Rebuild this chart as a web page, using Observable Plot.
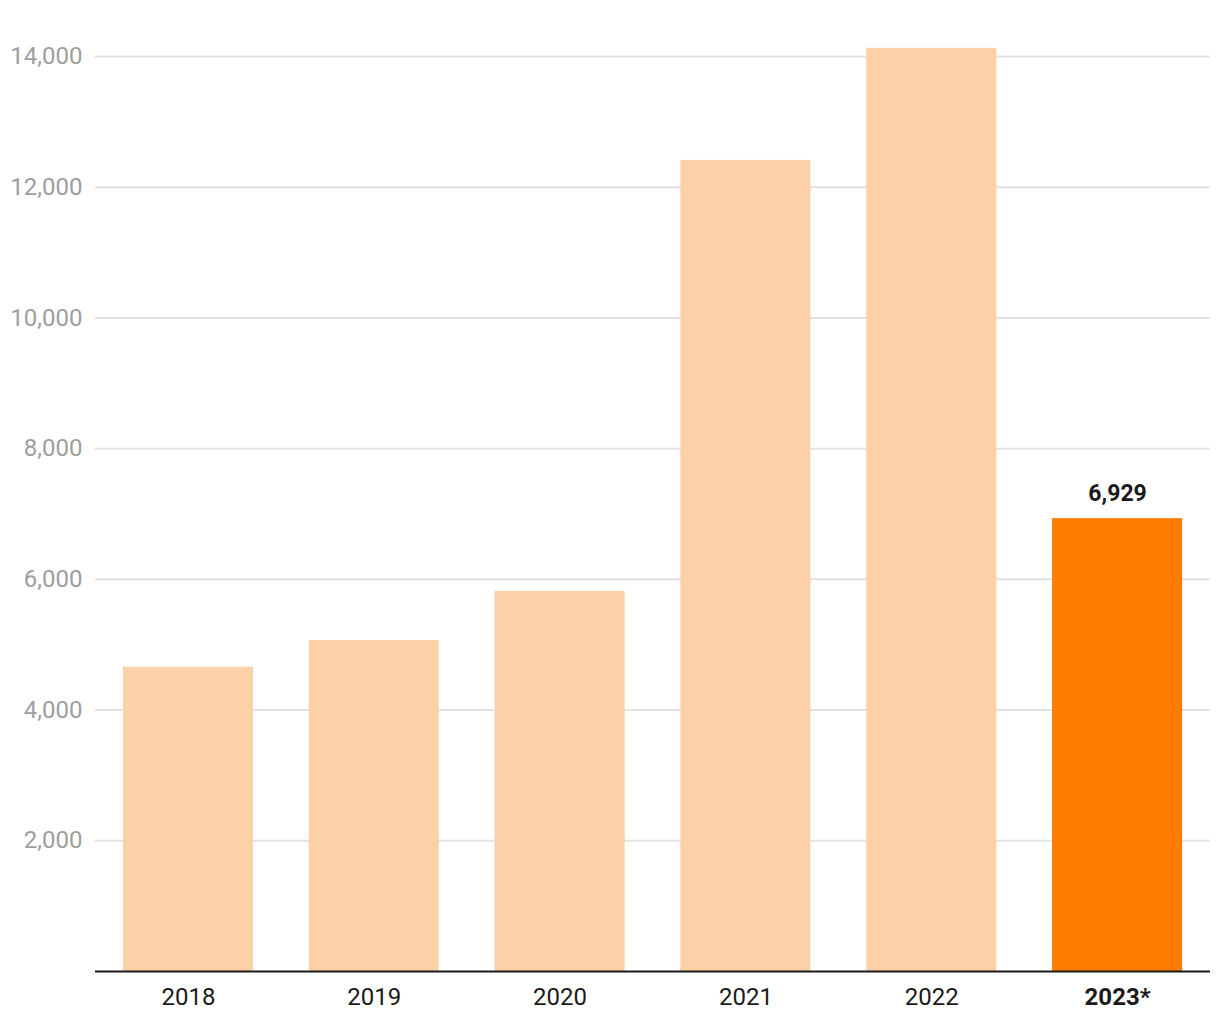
<!DOCTYPE html>
<html>
<head>
<meta charset="utf-8">
<script src="https://cdn.jsdelivr.net/npm/d3@7"></script>
<script src="https://cdn.jsdelivr.net/npm/@observablehq/plot@0.6"></script>
<style>
  html, body { margin: 0; padding: 0; background: #fff; }
  #chart { width: 1220px; height: 1020px; }
  svg { font-family: Roboto, "Noto Sans", sans-serif; }
</style>
</head>
<body>
<div id="chart"></div>
<script>
const years = ["2018", "2019", "2020", "2021", "2022", "2023*"];
const values = [4655, 5065, 5815, 12410, 14125, 6929];
const highlight = [false, false, false, false, false, true];
const yTicks = [2000, 4000, 6000, 8000, 10000, 12000, 14000];

const data = years.map((y, i) => ({year: y, value: values[i], hl: highlight[i]}));
const fmt = d3.format(",");

const chart = Plot.plot({
  width: 1220,
  height: 1020,
  marginLeft: 95,
  marginRight: 10,
  marginTop: 56,
  marginBottom: 49,
  style: {fontFamily: "Roboto, 'Noto Sans', sans-serif", background: "#fff"},
  x: {domain: years, paddingInner: 0.3, paddingOuter: 0.15, align: 0.5, round: false, label: null},
  y: {domain: [0, 14000], label: null},
  marks: [
    Plot.gridY(yTicks, {stroke: "#e3e3e3", strokeOpacity: 1, strokeWidth: 2}),
    Plot.axisY(yTicks, {tickSize: 0, tickPadding: 13, fontSize: 24, color: "#9e9e9e", tickFormat: fmt, label: null}),
    Plot.barY(data, {x: "year", y: "value", fill: d => d.hl ? "#ff7c00" : "#fdd1a7"}),
    Plot.ruleY([0], {stroke: "#1a1a1a", strokeWidth: 2}),
    Plot.axisX(years.filter((y, i) => !highlight[i]), {tickSize: 0, tickPadding: 16, fontSize: 24, color: "#1a1a1a", label: null}),
    Plot.axisX(years.filter((y, i) => highlight[i]), {tickSize: 0, tickPadding: 16, fontSize: 24, fontWeight: "bold", color: "#1a1a1a", label: null}),
    Plot.text(data.filter(d => d.hl), {x: "year", y: "value", text: d => fmt(d.value), dy: -25, fontSize: 23, fontWeight: "bold", fill: "#1a1a1a"})
  ]
});
document.getElementById("chart").appendChild(chart);
</script>
</body>
</html>
